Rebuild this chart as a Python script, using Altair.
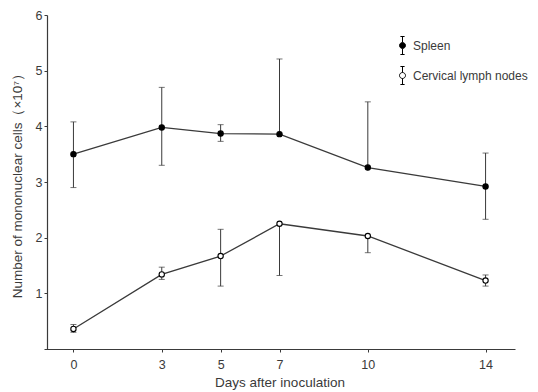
import altair as alt
import pandas as pd

days = [0, 3, 5, 7, 10, 14]
series_names = ["Spleen", "Cervical lymph nodes"]

spleen_mean = [3.50, 3.98, 3.87, 3.86, 3.26, 2.92]
spleen_lo = [2.90, 3.30, 3.73, 3.86, 3.26, 2.33]
spleen_hi = [4.08, 4.70, 4.03, 5.21, 4.44, 3.52]

lymph_mean = [0.36, 1.34, 1.67, 2.25, 2.03, 1.23]
lymph_lo = [0.30, 1.25, 1.13, 1.32, 1.73, 1.13]
lymph_hi = [0.44, 1.47, 2.15, 2.25, 2.03, 1.33]

x_ticks = [0, 3, 5, 7, 10, 14]
y_ticks = [1, 2, 3, 4, 5, 6]

rows = []
caps = []
for name, m, lo, hi in [
    (series_names[0], spleen_mean, spleen_lo, spleen_hi),
    (series_names[1], lymph_mean, lymph_lo, lymph_hi),
]:
    for d, mv, lv, hv in zip(days, m, lo, hi):
        rows.append({"series": name, "day": d, "mean": mv, "lo": lv, "hi": hv})
        if lv < mv:
            caps.append({"series": name, "day": d, "v": lv})
        if hv > mv:
            caps.append({"series": name, "day": d, "v": hv})

df = pd.DataFrame(rows)
cap_df = pd.DataFrame(caps)

INK = "#3a3a3a"
FONT = "Liberation Sans"

xs = alt.Scale(domain=[-1, 15], nice=False, zero=False)
ys = alt.Scale(domain=[0, 6], nice=False)

x_axis = alt.Axis(
    values=x_ticks,
    format="d",
    title="Days after inoculation",
    tickSize=3,
    labelPadding=6,
    titlePadding=5,
)
y_axis = alt.Axis(
    values=y_ticks,
    format="d",
    title="Number of mononuclear cells（×10⁷）",
    tickSize=3,
    labelPadding=2,
    titlePadding=11,
    offset=-3,
)

legend_path = (
    "M0,-1.5 L0,-0.5 M-0.35,-1.5 L0.35,-1.5 "
    "M0,0.5 L0,1.5 M-0.35,1.5 L0.35,1.5 "
    "M-0.5,0 A0.5,0.5 0 1,0 0.5,0 A0.5,0.5 0 1,0 -0.5,0 Z"
)

lines = alt.Chart(df).mark_line(color=INK, strokeWidth=1.3).encode(
    x=alt.X("day:Q", scale=xs, axis=x_axis),
    y=alt.Y("mean:Q", scale=ys, axis=y_axis),
    detail="series:N",
)

bars = alt.Chart(df).mark_rule(color=INK, strokeWidth=1).encode(
    x=alt.X("day:Q", scale=xs, axis=x_axis),
    y=alt.Y("lo:Q", scale=ys, axis=y_axis),
    y2="hi:Q",
    detail="series:N",
)

cap_marks = alt.Chart(cap_df).mark_tick(
    color=INK, thickness=1, size=6, orient="horizontal"
).encode(
    x=alt.X("day:Q", scale=xs, axis=x_axis),
    y=alt.Y("v:Q", scale=ys, axis=y_axis),
)

points = alt.Chart(df).mark_point(
    shape="circle", filled=False, stroke="black", strokeWidth=1.1, size=28, opacity=1
).encode(
    x=alt.X("day:Q", scale=xs, axis=x_axis),
    y=alt.Y("mean:Q", scale=ys, axis=y_axis),
    fill=alt.Fill(
        "series:N",
        scale=alt.Scale(domain=series_names, range=["black", "white"]),
        legend=alt.Legend(
            title=None,
            orient="none",
            legendX=352,
            legendY=24,
            symbolType=legend_path,
            symbolSize=144,
            symbolStrokeColor="black",
            symbolStrokeWidth=1,
            symbolOpacity=1,
            labelFont=FONT,
            labelFontSize=12,
            labelColor=INK,
            labelOffset=4,
            rowPadding=7,
        ),
    ),
    fillOpacity=alt.value(1),
)

chart = (
    alt.layer(lines, bars, cap_marks, points)
    .properties(
        width=471,
        height=334,
        autosize=alt.AutoSizeParams(type="none"),
        padding={"left": 44, "top": 15, "right": 23, "bottom": 43},
        background="white",
    )
    .configure_view(stroke=None)
    .configure_axis(
        grid=False,
        domainColor=INK,
        domainWidth=1.2,
        tickColor=INK,
        labelFont=FONT,
        labelFontSize=12.5,
        labelColor=INK,
        titleFont=FONT,
        titleFontSize=13.5,
        titleFontWeight="normal",
        titleColor=INK,
    )
)

chart.save("out.html", embed_options={"renderer": "svg", "actions": False})
